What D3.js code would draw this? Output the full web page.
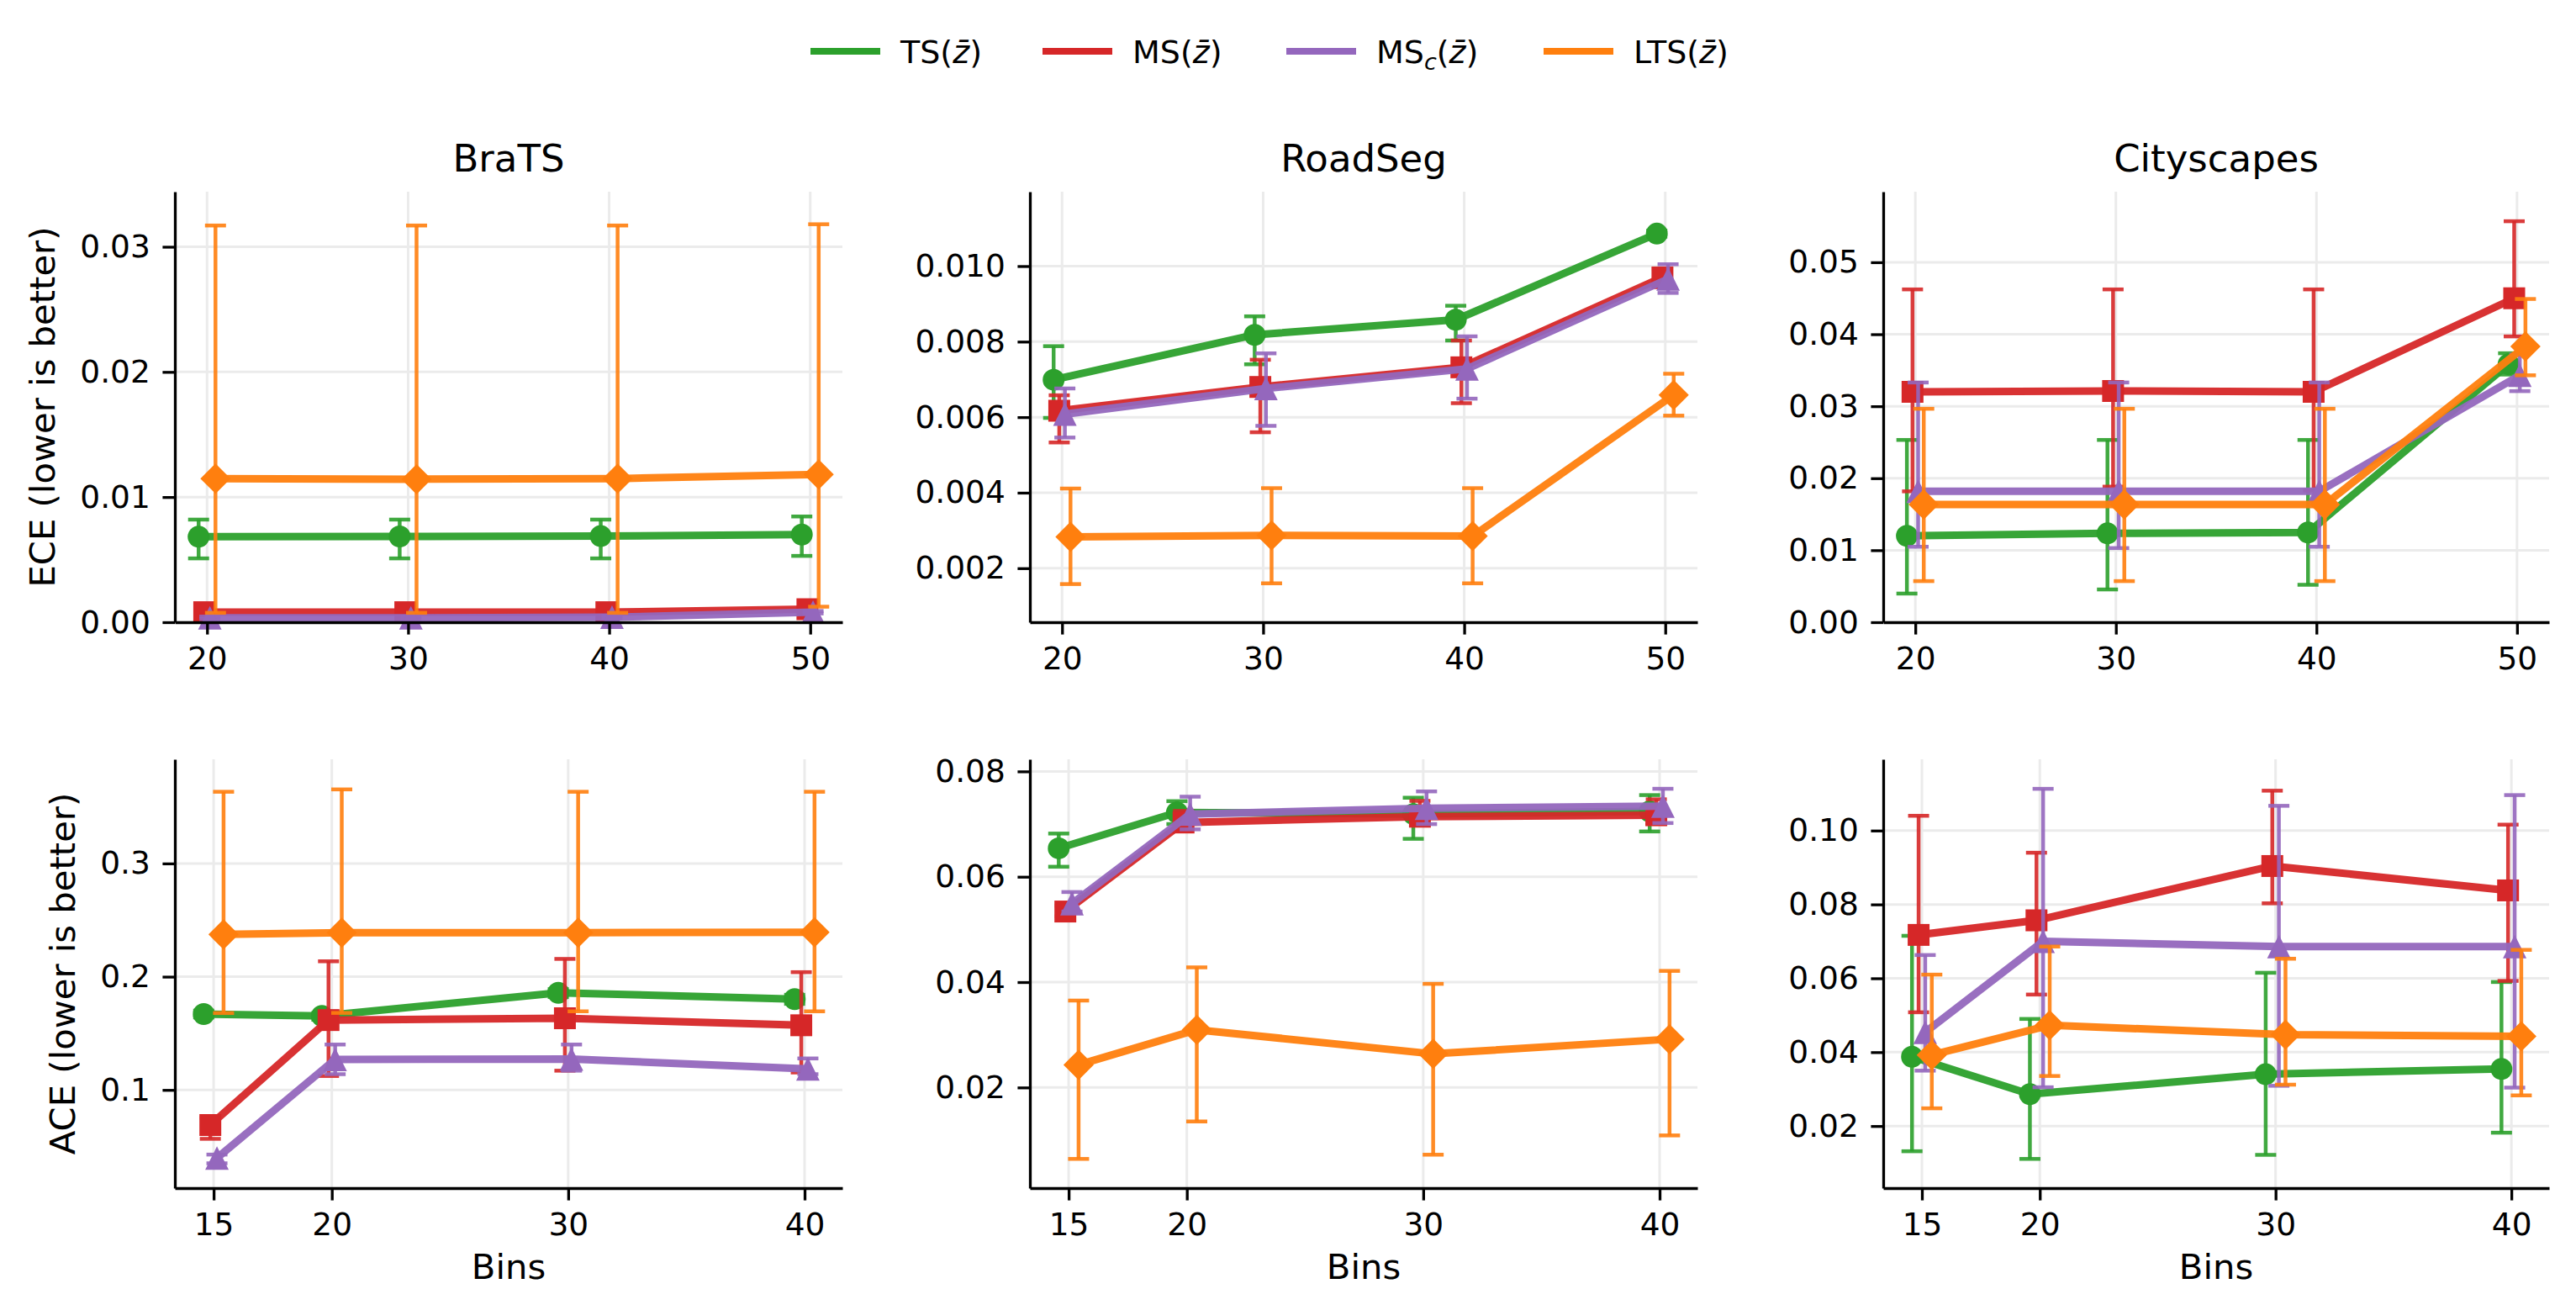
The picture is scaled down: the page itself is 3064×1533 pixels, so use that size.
<!DOCTYPE html>
<html>
<head>
<meta charset="utf-8">
<script src="https://cdn.jsdelivr.net/npm/d3@7"></script>
<style>
  body { margin: 0; background: #fff; }
  text { font-family: "DejaVu Sans", sans-serif; }
</style>
</head>
<body>
<div id="chart"></div>
<script>
const methods = ['TS', 'MS', 'MSc', 'LTS'];
const colors = ['#2ca02c', '#d62728', '#9467bd', '#ff7f0e'];
const markers = ['circle', 'square', 'triangle', 'diamond'];
const datasets = ['BraTS', 'RoadSeg', 'Cityscapes'];
const eceBins = [20, 30, 40, 50];
const aceBins = [15, 20, 30, 40];

// rows: TS, MS, MSc, LTS ; columns: bins
const bratsEceMean = [[0.00683, 0.00685, 0.00688, 0.0070], [0.0008, 0.0008, 0.0008, 0.00104], [0.00035, 0.00035, 0.0004, 0.0008], [0.01148, 0.01143, 0.01148, 0.0118]];
const bratsEceLo   = [[0.0051, 0.0051, 0.0051, 0.0053], [0.0007, 0.0007, 0.0007, 0.0009], [0.00025, 0.00025, 0.0003, 0.0007], [0.00075, 0.00075, 0.00075, 0.00124]];
const bratsEceHi   = [[0.0082, 0.0082, 0.0082, 0.00845], [0.0009, 0.0009, 0.0009, 0.0012], [0.00045, 0.00045, 0.0005, 0.0009], [0.0317, 0.0317, 0.0317, 0.0318]];

const roadEceMean = [[0.00699, 0.00818, 0.00858, 0.01086], [0.00617, 0.0068, 0.00732, 0.0097], [0.00608, 0.00676, 0.00728, 0.00966], [0.00283, 0.00287, 0.00285, 0.00659]];
const roadEceLo   = [[0.00598, 0.0074, 0.00803, 0.01078], [0.00533, 0.0056, 0.00637, 0.00944], [0.00546, 0.00577, 0.00649, 0.00929], [0.00158, 0.0016, 0.0016, 0.00604]];
const roadEceHi   = [[0.00788, 0.00867, 0.00895, 0.01094], [0.00658, 0.00752, 0.00803, 0.00993], [0.00676, 0.00769, 0.00814, 0.01005], [0.00411, 0.00412, 0.00412, 0.00715]];

const cityEceMean = [[0.0120, 0.01234, 0.01247, 0.03584], [0.0320, 0.03212, 0.0320, 0.0450], [0.01818, 0.01818, 0.01818, 0.0343], [0.01636, 0.01636, 0.01636, 0.0383]];
const cityEceLo   = [[0.00398, 0.00455, 0.0052, 0.0344], [0.01818, 0.01883, 0.0183, 0.0397], [0.01048, 0.0103, 0.01048, 0.0321], [0.00571, 0.00571, 0.00571, 0.0343]];
const cityEceHi   = [[0.02532, 0.02532, 0.02532, 0.03736], [0.04623, 0.04623, 0.04623, 0.0557], [0.0333, 0.0333, 0.0333, 0.0372], [0.02965, 0.02965, 0.02965, 0.0449]];

const bratsAceMean = [[0.167, 0.1654, 0.1858, 0.1802], [0.069, 0.1617, 0.1633, 0.1571], [0.0398, 0.1269, 0.1272, 0.1185], [0.2373, 0.2389, 0.2389, 0.2392]];
const bratsAceLo   = [[0.164, 0.162, 0.182, 0.176], [0.0568, 0.1123, 0.117, 0.1154], [0.0352, 0.1139, 0.117, 0.1139], [0.1679, 0.168, 0.1694, 0.1694]];
const bratsAceHi   = [[0.170, 0.168, 0.189, 0.184], [0.0753, 0.2136, 0.2157, 0.204], [0.0429, 0.1401, 0.1401, 0.1278], [0.3633, 0.3654, 0.3633, 0.3633]];

const roadAceMean = [[0.0654, 0.0722, 0.0719, 0.0724], [0.0534, 0.0703, 0.0714, 0.0717], [0.0549, 0.0719, 0.0730, 0.0734], [0.0243, 0.03096, 0.02638, 0.02917]];
const roadAceLo   = [[0.0619, 0.0700, 0.0672, 0.0686], [0.0525, 0.0690, 0.0700, 0.0700], [0.0534, 0.0690, 0.0700, 0.0702], [0.00644, 0.01355, 0.00724, 0.0109]];
const roadAceHi   = [[0.0682, 0.07435, 0.0750, 0.0755], [0.0545, 0.0725, 0.0744, 0.0747], [0.0571, 0.0752, 0.0762, 0.0767], [0.0365, 0.0428, 0.03967, 0.04213]];

const cityAceMean = [[0.03877, 0.02863, 0.03403, 0.03545], [0.07175, 0.0757, 0.0904, 0.0838], [0.0454, 0.0700, 0.0686, 0.0686], [0.03924, 0.0473, 0.04474, 0.04427]];
const cityAceLo   = [[0.01318, 0.0111, 0.0122, 0.0182], [0.0508, 0.0556, 0.0803, 0.0593], [0.035, 0.0305, 0.0309, 0.0304], [0.0248, 0.03355, 0.0312, 0.0283]];
const cityAceHi   = [[0.0715, 0.049, 0.0615, 0.059], [0.104, 0.094, 0.1108, 0.1016], [0.0663, 0.1113, 0.1067, 0.1096], [0.061, 0.0686, 0.0653, 0.0677]];

const eceTicks = [[0, 0.01, 0.02, 0.03], [0.002, 0.004, 0.006, 0.008, 0.010], [0, 0.01, 0.02, 0.03, 0.04, 0.05]];
const aceTicks = [[0.1, 0.2, 0.3], [0.02, 0.04, 0.06, 0.08], [0.02, 0.04, 0.06, 0.08, 0.10]];

const W = 3064, H = 1533;
const colLeft = [208, 1225, 2240];
const colRight = [1002, 2019, 3032];
const rowTop = [228, 903];
const rowBottom = [740, 1413];
const dodge = [-0.42, -0.14, 0.14, 0.42];
const legendX = [964, 1240, 1530, 1836];

const panels = [
  { row: 0, col: 0, bins: eceBins, xDom: [18.4, 51.6], yDom: [0, 0.0344], ticks: eceTicks[0], fmt: '.2f', mean: bratsEceMean, lo: bratsEceLo, hi: bratsEceHi },
  { row: 0, col: 1, bins: eceBins, xDom: [18.4, 51.6], yDom: [0.00057, 0.01197], ticks: eceTicks[1], fmt: '.3f', mean: roadEceMean, lo: roadEceLo, hi: roadEceHi },
  { row: 0, col: 2, bins: eceBins, xDom: [18.4, 51.6], yDom: [0, 0.0598], ticks: eceTicks[2], fmt: '.2f', mean: cityEceMean, lo: cityEceLo, hi: cityEceHi },
  { row: 1, col: 0, bins: aceBins, xDom: [13.36, 41.6], yDom: [0.0133, 0.392], ticks: aceTicks[0], fmt: '.1f', mean: bratsAceMean, lo: bratsAceLo, hi: bratsAceHi },
  { row: 1, col: 1, bins: aceBins, xDom: [13.36, 41.6], yDom: [0.0009, 0.0823], ticks: aceTicks[1], fmt: '.2f', mean: roadAceMean, lo: roadAceLo, hi: roadAceHi },
  { row: 1, col: 2, bins: aceBins, xDom: [13.36, 41.6], yDom: [0.0032, 0.1193], ticks: aceTicks[2], fmt: '.2f', mean: cityAceMean, lo: cityAceLo, hi: cityAceHi }
];

const markerPath = (type) => {
  if (type === 'circle') return d3.symbol(d3.symbolCircle, Math.PI * 13 * 13)();
  if (type === 'square') return 'M-13,-13H13V13H-13Z';
  if (type === 'triangle') return 'M0,-14L14,14H-14Z';
  return 'M0,-18L18,0L0,18L-18,0Z';
};

const svg = d3.select('#chart').append('svg')
  .attr('width', W).attr('height', H)
  .style('background', '#fff');

panels.forEach(p => {
  const left = colLeft[p.col], right = colRight[p.col];
  const top = rowTop[p.row], bottom = rowBottom[p.row];
  const x = d3.scaleLinear().domain(p.xDom).range([left, right]);
  const y = d3.scaleLinear().domain(p.yDom).range([bottom, top]);
  const g = svg.append('g');

  // grid
  g.append('g').selectAll('line').data(p.ticks).join('line')
    .attr('x1', left).attr('x2', right)
    .attr('y1', d => y(d)).attr('y2', d => y(d))
    .attr('stroke', '#ebebeb').attr('stroke-width', 3);
  g.append('g').selectAll('line').data(p.bins).join('line')
    .attr('y1', top).attr('y2', bottom)
    .attr('x1', d => x(d)).attr('x2', d => x(d))
    .attr('stroke', '#ebebeb').attr('stroke-width', 3);

  // series
  methods.forEach((m, i) => {
    const pts = p.bins.map((b, j) => ({
      x: x(b + dodge[i]), y: y(p.mean[i][j]), lo: y(p.lo[i][j]), hi: y(p.hi[i][j])
    }));
    const s = g.append('g').attr('class', 'series-' + m);

    s.selectAll('.ebar').data(pts).join('line')
      .attr('x1', d => d.x).attr('x2', d => d.x)
      .attr('y1', d => d.lo).attr('y2', d => d.hi)
      .attr('stroke', colors[i]).attr('stroke-width', 4.5).attr('opacity', 0.9);
    s.selectAll('.cap').data(pts.flatMap(d => [{ x: d.x, y: d.lo }, { x: d.x, y: d.hi }])).join('line')
      .attr('x1', d => d.x - 12.5).attr('x2', d => d.x + 12.5)
      .attr('y1', d => d.y).attr('y2', d => d.y)
      .attr('stroke', colors[i]).attr('stroke-width', 4.5).attr('opacity', 0.9);

    s.append('path')
      .attr('d', d3.line().x(d => d.x).y(d => d.y)(pts))
      .attr('fill', 'none')
      .attr('stroke', colors[i])
      .attr('stroke-width', 9)
      .attr('stroke-linejoin', 'round')
      .attr('opacity', 0.95);

    s.selectAll('.mk').data(pts).join('path')
      .attr('transform', d => `translate(${d.x},${d.y})`)
      .attr('d', markerPath(markers[i]))
      .attr('fill', colors[i]);
  });

  // axes
  const xAxis = g.append('g')
    .attr('transform', `translate(0,${bottom})`)
    .call(d3.axisBottom(x).tickValues(p.bins).tickFormat(d3.format('d'))
      .tickSize(14.6).tickPadding(14.6).tickSizeOuter(0));
  const yAxis = g.append('g')
    .attr('transform', `translate(${left},0)`)
    .call(d3.axisLeft(y).tickValues(p.ticks).tickFormat(d3.format(p.fmt))
      .tickSize(14.6).tickPadding(14.6).tickSizeOuter(0));
  [xAxis, yAxis].forEach(a => {
    a.attr('font-size', 37.5).attr('font-family', '"DejaVu Sans", sans-serif');
    a.select('.domain').attr('stroke-width', 3.3).attr('stroke', '#000');
    a.selectAll('.tick line').attr('stroke-width', 3.3).attr('stroke', '#000');
    a.selectAll('.tick text').attr('fill', '#000');
  });

  if (p.row === 0) {
    g.append('text')
      .attr('x', (left + right) / 2).attr('y', 204)
      .attr('text-anchor', 'middle')
      .attr('font-size', 45)
      .text(datasets[p.col]);
  } else {
    g.append('text')
      .attr('x', (left + right) / 2).attr('y', 1521)
      .attr('text-anchor', 'middle')
      .attr('font-size', 41.7)
      .text('Bins');
  }

  if (p.col === 0) {
    // bbox is in the axis group's own space, so add its translate
    const bb = yAxis.node().getBBox();
    const lx = left + bb.x - 30;
    g.append('text')
      .attr('transform', `translate(${lx},${(top + bottom) / 2}) rotate(-90)`)
      .attr('text-anchor', 'middle')
      .attr('font-size', 41.7)
      .text(p.row === 0 ? 'ECE (lower is better)' : 'ACE (lower is better)');
  }
});

// legend
const legend = svg.append('g').attr('id', 'legend');
methods.forEach((m, i) => {
  const lx = legendX[i];
  const item = legend.append('g');
  item.append('line')
    .attr('x1', lx).attr('x2', lx + 83)
    .attr('y1', 61).attr('y2', 61)
    .attr('stroke', colors[i]).attr('stroke-width', 8);
  const t = item.append('text')
    .attr('x', lx + 83 + 24).attr('y', 75)
    .attr('font-size', 38);
  if (m === 'MSc') {
    t.append('tspan').text('MS');
    t.append('tspan').attr('font-style', 'italic').attr('font-size', 27).attr('dy', 8).text('c');
    t.append('tspan').attr('dy', -8).text('(');
  } else {
    t.append('tspan').text(m + '(');
  }
  t.append('tspan').attr('font-style', 'italic').text('z\u0304');
  t.append('tspan').text(')');
});
</script>
</body>
</html>
